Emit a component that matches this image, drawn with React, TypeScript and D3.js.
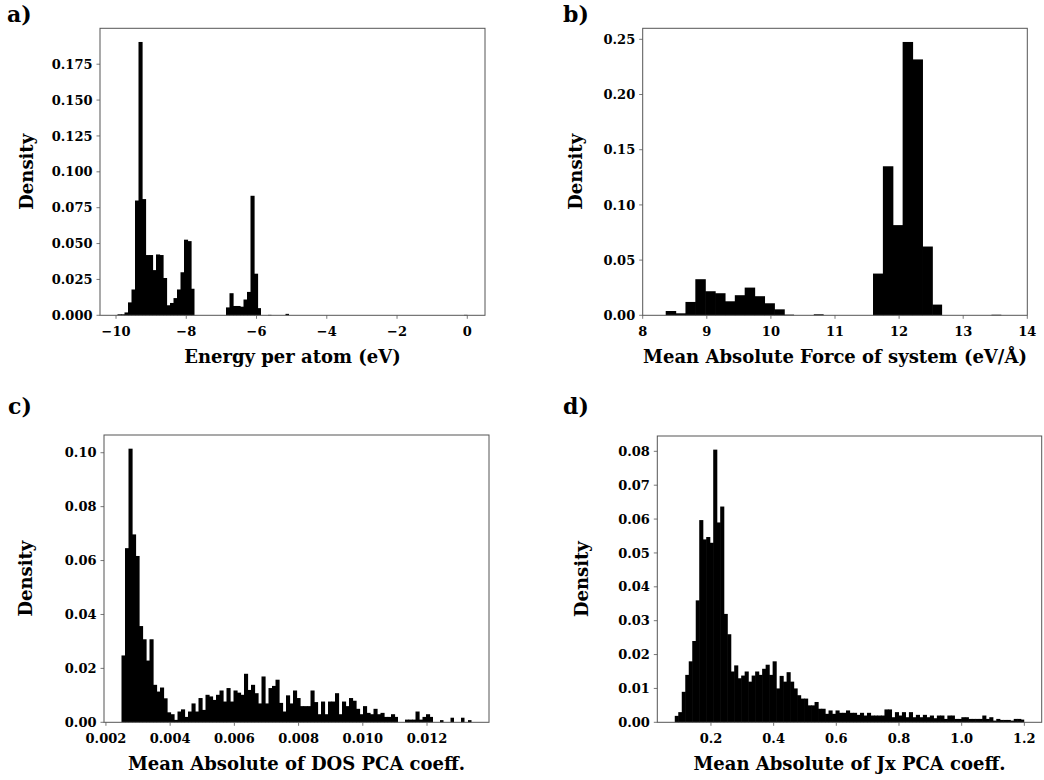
import React from 'react';
import * as d3 from 'd3';

// ---------------- DATA ----------------
// a) Energy per atom histogram (100 bins)
const energyBinStart = -9.958;
const energyBinWidth = 0.09964;
const energyDensity = [
  0.0007, 0.0007, 0.002, 0.009, 0.018, 0.080, 0.1905, 0.081, 0.042, 0.042,
  0.0315, 0.0424, 0.042, 0.026, 0.007, 0.0086, 0.012, 0.018, 0.030, 0.0527,
  0.0517, 0.0185, 0, 0, 0, 0, 0, 0, 0, 0,
  0, 0.0055, 0.0154, 0.0065, 0.0065, 0.006, 0.011, 0.0163, 0.0833, 0.029,
  0.005, 0, 0, 0.0003, 0, 0, 0, 0, 0.001, 0,
  0, 0, 0, 0, 0, 0, 0, 0, 0, 0,
  0, 0, 0, 0, 0, 0, 0, 0, 0, 0,
  0, 0, 0, 0, 0, 0, 0, 0, 0, 0,
  0, 0, 0, 0, 0, 0, 0, 0, 0, 0,
  0, 0, 0, 0, 0, 0, 0, 0, 0, 0.0003,
];
const energyXTicks = [-10, -8, -6, -4, -2, 0];
const energyYTicks = [0, 0.025, 0.05, 0.075, 0.1, 0.125, 0.15, 0.175];

// b) Mean absolute force histogram (34 bins)
const forceBinStart = 8.359;
const forceBinWidth = 0.154;
const forceDensity = [
  0.0039, 0.0018, 0.0121, 0.0327, 0.0218, 0.020, 0.0127, 0.0182, 0.0251, 0.0173,
  0.0109, 0.0054, 0.0006, 0, 0, 0.0009, 0, 0, 0, 0,
  0, 0.0378, 0.135, 0.0817, 0.2476, 0.2318, 0.0623, 0.0097, 0, 0,
  0, 0, 0, 0.0005,
];
const forceXDomain = [8, 14];
const forceXTicks = [8, 9, 10, 11, 12, 13, 14];
const forceYTicks = [0, 0.05, 0.1, 0.15, 0.2, 0.25];

// c) DOS PCA coefficient histogram (100 bins)
const dosBinStart = 0.002485;
const dosBinWidth = 0.000109;
const dosDensity = [
  0.0248, 0.0646, 0.1015, 0.0697, 0.0617, 0.0357, 0.0308, 0.0229, 0.0308, 0.0139,
  0.0114, 0.0129, 0.0089, 0.0037, 0.003, 0.0009, 0.004, 0.0048, 0.002, 0.004,
  0.007, 0.004, 0.009, 0.0046, 0.0102, 0.0096, 0.0083, 0.0102, 0.0118, 0.0077,
  0.0127, 0.0077, 0.0118, 0.011, 0.0102, 0.018, 0.012, 0.0139, 0.0108, 0.007,
  0.017, 0.007, 0.0127, 0.0135, 0.0158, 0.0072, 0.004, 0.010, 0.007, 0.0118,
  0.009, 0.006, 0.006, 0.006, 0.0118, 0.0075, 0.003, 0.0077, 0.003, 0.0077,
  0.0077, 0.0108, 0.003, 0.0077, 0.006, 0.009, 0.008, 0.005, 0.003, 0.006,
  0.0035, 0.003, 0.005, 0.003, 0.0035, 0.002, 0.002, 0.003, 0.002, 0,
  0, 0.001, 0.001, 0.001, 0.004, 0.001, 0.002, 0.003, 0.002, 0,
  0, 0.0008, 0, 0, 0.0017, 0, 0, 0.0017, 0, 0.0008,
];
const dosXTicks = [0.002, 0.004, 0.006, 0.008, 0.01, 0.012];
const dosYTicks = [0, 0.02, 0.04, 0.06, 0.08, 0.1];

// d) Jx PCA coefficient histogram (100 bins)
const jxBinStart = 0.0845;
const jxBinWidth = 0.011151;
const jxDensity = [
  0.0019, 0.003, 0.009, 0.014, 0.018, 0.024, 0.036, 0.0597, 0.054, 0.0547,
  0.053, 0.0805, 0.059, 0.0637, 0.032, 0.026, 0.015, 0.0168, 0.013, 0.0138,
  0.015, 0.012, 0.0138, 0.015, 0.014, 0.0158, 0.017, 0.014, 0.018, 0.010,
  0.0137, 0.012, 0.0148, 0.012, 0.010, 0.008, 0.007, 0.007, 0.005, 0.005,
  0.006, 0.004, 0.004, 0.0025, 0.0035, 0.0025, 0.0035, 0.0028, 0.0028, 0.0035,
  0.0028, 0.0028, 0.0022, 0.0028, 0.002, 0.0028, 0.002, 0.002, 0.002, 0.002,
  0.0038, 0.0038, 0.0015, 0.003, 0.002, 0.003, 0.0015, 0.003, 0.0015, 0.0022,
  0.0015, 0.0022, 0.0015, 0.002, 0.0012, 0.002, 0.002, 0.001, 0.002, 0.002,
  0.001, 0.001, 0.0015, 0.0015, 0.001, 0.001, 0.001, 0.001, 0.002, 0.001,
  0.0015, 0.0005, 0.001, 0.0007, 0.0007, 0.0007, 0.0005, 0.001, 0.001, 0.0008,
];
const jxXTicks = [0.2, 0.4, 0.6, 0.8, 1.0, 1.2];
const jxYTicks = [0, 0.01, 0.02, 0.03, 0.04, 0.05, 0.06, 0.07, 0.08];

// ---------------- RENDERING ----------------
const FONT = "'DejaVu Serif', 'Liberation Serif', serif";
const SPINE = '#555';

type PanelProps = {
  box: { x: number; y: number; w: number; h: number };
  binStart: number;
  binWidth: number;
  density: number[];
  xDomain?: number[];
  xTicks: number[];
  xFmt: (v: number) => string;
  yTicks: number[];
  yFmt: (v: number) => string;
  xLabel: string;
  tag: string;
  tagPos: [number, number];
  yLabelOffset: number;
};

const minusFmt = (f: (v: number) => string) => (v: number) => f(v).replace('-', '\u2212');

function Panel(p: PanelProps) {
  const { box } = p;
  const n = p.density.length;
  const lo = p.binStart;
  const hi = p.binStart + n * p.binWidth;
  const pad = (hi - lo) * 0.05;
  const dom = p.xDomain ?? [lo - pad, hi + pad];
  const xs = d3.scaleLinear().domain(dom).range([box.x, box.x + box.w]);
  const ymax = (d3.max(p.density) ?? 1) * 1.05;
  const ys = d3.scaleLinear().domain([0, ymax]).range([box.y + box.h, box.y]);
  const bottom = box.y + box.h;
  return (
    <g>
      {p.density.map((d, i) => {
        if (d <= 0) return null;
        const x0 = xs(p.binStart + i * p.binWidth);
        const x1 = xs(p.binStart + (i + 1) * p.binWidth);
        const next = i + 1 < n ? p.density[i + 1] : 0;
        const extra = next > 0 ? 0.6 : 0;
        return (
          <rect key={i} x={x0} y={ys(d)} width={x1 - x0 + extra} height={ys(0) - ys(d)} fill="#000" />
        );
      })}
      <rect x={box.x} y={box.y} width={box.w} height={box.h} fill="none" stroke={SPINE} strokeWidth={1} />
      {p.xTicks.map((t) => (
        <g key={'x' + t}>
          <line x1={xs(t)} x2={xs(t)} y1={bottom} y2={bottom + 3.5} stroke={SPINE} strokeWidth={0.8} />
          <text x={xs(t)} y={bottom + 21} textAnchor="middle" fontFamily={FONT} fontWeight="bold" fontSize={13} fill="#000">
            {p.xFmt(t)}
          </text>
        </g>
      ))}
      {p.yTicks.map((t) => (
        <g key={'y' + t}>
          <line x1={box.x - 3.5} x2={box.x} y1={ys(t)} y2={ys(t)} stroke={SPINE} strokeWidth={0.8} />
          <text x={box.x - 7.5} y={ys(t) + 4.6} textAnchor="end" fontFamily={FONT} fontWeight="bold" fontSize={13} fill="#000">
            {p.yFmt(t)}
          </text>
        </g>
      ))}
      <text x={box.x + box.w / 2} y={bottom + 48} textAnchor="middle" fontFamily={FONT} fontWeight="bold" fontSize={18} fill="#000">
        {p.xLabel}
      </text>
      <text transform={`translate(${box.x - p.yLabelOffset},${box.y + box.h / 2}) rotate(-90)`} textAnchor="middle"
        dy="0.35em" fontFamily={FONT} fontWeight="bold" fontSize={18} fill="#000">
        Density
      </text>
      <text x={p.tagPos[0]} y={p.tagPos[1]} fontFamily={FONT} fontWeight="bold" fontSize={22} fill="#000">
        {p.tag}
      </text>
    </g>
  );
}

export default function App() {
  const f0 = minusFmt(d3.format('d'));
  return (
    <svg width={1044} height={780} style={{ position: 'absolute', left: 0, top: 0, background: '#fff' }}>
      <rect x={0} y={0} width={1044} height={780} fill="#fff" />
      <Panel box={{ x: 100, y: 28.3, w: 385, h: 287 }} binStart={energyBinStart} binWidth={energyBinWidth}
        density={energyDensity} xTicks={energyXTicks} xFmt={f0} yTicks={energyYTicks} yFmt={d3.format('.3f')}
        xLabel="Energy per atom (eV)" tag="a)" tagPos={[7, 22]} yLabelOffset={73} />
      <Panel box={{ x: 642.7, y: 28.3, w: 384.6, h: 287 }} binStart={forceBinStart} binWidth={forceBinWidth}
        density={forceDensity} xDomain={forceXDomain} xTicks={forceXTicks} xFmt={f0} yTicks={forceYTicks}
        yFmt={d3.format('.2f')} xLabel="Mean Absolute Force of system (eV/Å)" tag="b)" tagPos={[563, 22]} yLabelOffset={67} />
      <Panel box={{ x: 104, y: 435, w: 385, h: 287.3 }} binStart={dosBinStart} binWidth={dosBinWidth}
        density={dosDensity} xTicks={dosXTicks} xFmt={d3.format('.3f')} yTicks={dosYTicks} yFmt={d3.format('.2f')}
        xLabel="Mean Absolute of DOS PCA coeff." tag="c)" tagPos={[8, 414]} yLabelOffset={78} />
      <Panel box={{ x: 657.3, y: 436, w: 384.4, h: 286.3 }} binStart={jxBinStart} binWidth={jxBinWidth}
        density={jxDensity} xTicks={jxXTicks} xFmt={d3.format('.1f')} yTicks={jxYTicks} yFmt={d3.format('.2f')}
        xLabel="Mean Absolute of Jx PCA coeff." tag="d)" tagPos={[563, 414]} yLabelOffset={76} />
    </svg>
  );
}
